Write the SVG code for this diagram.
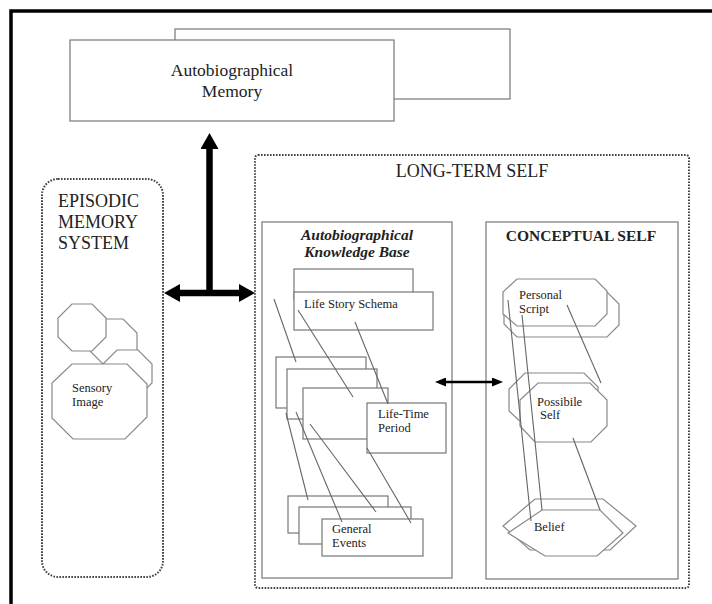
<svg xmlns="http://www.w3.org/2000/svg" width="712" height="604" viewBox="0 0 712 604">
<style>
  text { font-family: "Liberation Serif", "Times New Roman", serif; fill: #222; }
  .box { fill: #fff; stroke: #777; stroke-width: 1.2; }
  .dot { fill: none; stroke: #444; stroke-width: 2; stroke-dasharray: 1.6 1.4; }
  .shape { fill: #fff; stroke: #888; stroke-width: 1.2; }
  .thin { stroke: #666; stroke-width: 1.1; fill: none; }
  .big { stroke: #000; stroke-width: 6.5; fill: none; }
  .mid { stroke: #000; stroke-width: 2.6; fill: none; }
  .t18 { font-size: 18px; }
  .t12 { font-size: 12.5px; }
</style>
<defs>
  <marker id="bigHead" viewBox="0 0 16 18" refX="0" refY="9" markerWidth="16" markerHeight="18" markerUnits="userSpaceOnUse" orient="auto-start-reverse">
    <path d="M0,0 L16,9 L0,18 Z" fill="#000"/>
  </marker>
  <marker id="midHead" viewBox="0 0 11 9" refX="0" refY="4.5" markerWidth="11" markerHeight="9" markerUnits="userSpaceOnUse" orient="auto-start-reverse">
    <path d="M0,0 L11,4.5 L0,9 Z" fill="#000"/>
  </marker>
</defs>
<rect width="712" height="604" fill="#fff"/>
<rect x="11" y="11" width="712" height="612" fill="none" stroke="#000" stroke-width="3.5"/>

<g id="autobiographical-memory">
  <rect class="box" x="175" y="29" width="335" height="70"/>
  <rect class="box" x="70" y="40" width="324" height="81"/>
  <text class="t18" x="232" y="76" text-anchor="middle" style="font-size:17.5px">Autobiographical</text>
  <text class="t18" x="232" y="97" text-anchor="middle" style="font-size:17.5px">Memory</text>
</g>

<g id="episodic-memory-system">
  <rect class="dot" x="42" y="179" width="121" height="398" rx="16"/>
  <text class="t18" x="58" y="207">EPISODIC</text>
  <text class="t18" x="58" y="228">MEMORY</text>
  <text class="t18" x="58" y="249">SYSTEM</text>
  <polygon class="shape" points="104,319 123,319 137,333 137,351 123,365 104,365 90,351 90,333"/>
  <polygon class="shape" points="117,350 138,350 152,364 152,383 140,395 117,395 103,383 103,364"/>
  <polygon class="shape" points="72,304 92,304 106,318 106,337 92,351 72,351 58,337 58,318"/>
  <g id="sensory-image">
    <polygon class="shape" points="72,364 127,364 147,384 147,417 125,439 73,439 52,418 52,383"/>
    <text class="t12" x="72" y="392">Sensory</text>
    <text class="t12" x="72" y="406">Image</text>
  </g>
</g>

<g id="long-term-self">
  <rect class="dot" x="255" y="155" width="434" height="433" rx="3"/>
  <text class="t18" x="472" y="177" text-anchor="middle">LONG-TERM SELF</text>
</g>

<g id="autobiographical-knowledge-base">
  <rect class="box" x="262" y="222" width="190" height="356"/>
  <text x="357" y="240" text-anchor="middle" font-weight="bold" font-style="italic" font-size="15.5">Autobiographical</text>
  <text x="357" y="257" text-anchor="middle" font-weight="bold" font-style="italic" font-size="15.5">Knowledge Base</text>
</g>

<g id="life-story-schema">
  <rect class="box" x="294" y="269" width="119" height="30"/>
  <rect class="box" x="294" y="292" width="139" height="38"/>
  <text class="t12" x="304" y="308">Life Story Schema</text>
</g>

<g id="life-time-period">
  <rect class="box" x="276" y="357" width="90" height="51"/>
  <rect class="box" x="287" y="369" width="90" height="50"/>
  <rect class="box" x="303" y="388" width="85" height="51"/>
  <rect class="box" x="367" y="403" width="79" height="50"/>
  <text class="t12" x="378" y="418">Life-Time</text>
  <text class="t12" x="378" y="432">Period</text>
</g>

<g id="general-events">
  <rect class="box" x="288" y="496" width="100" height="37"/>
  <rect class="box" x="299" y="507" width="112" height="37"/>
  <rect class="box" x="322" y="519" width="101" height="37"/>
  <text class="t12" x="332" y="533">General</text>
  <text class="t12" x="332" y="547">Events</text>
</g>

<g id="conceptual-self">
  <rect class="box" x="486" y="222" width="192" height="357"/>
  <text x="581" y="241" text-anchor="middle" font-weight="bold" font-size="15.5">CONCEPTUAL SELF</text>
</g>

<g id="personal-script">
  <polygon class="shape" points="517,291 606,291 619,304 619,325 607,337 517,337 504,324 504,304"/>
  <polygon class="shape" points="517,279 595,279 607,291 607,314 595,326 517,326 503,314 503,292"/>
  <text class="t12" x="519" y="299">Personal</text>
  <text class="t12" x="519" y="313">Script</text>
</g>

<g id="possibile-self">
  <polygon class="shape" points="525,373 584,373 598,387 598,412 584,426 525,426 509,411 509,389"/>
  <polygon class="shape" points="538,383 590,383 607,400 607,426 591,442 535,442 520,426 520,400"/>
  <text class="t12" x="537" y="406">Possibile</text>
  <text class="t12" x="540" y="419">Self</text>
</g>

<g id="belief">
  <polygon class="shape" points="535,499 603,499 636,526 610,550 530,550 503,526"/>
  <polygon class="shape" points="542,510 600,510 623,533 597,556 545,556 508,533"/>
  <text class="t12" x="534" y="531">Belief</text>
</g>

<g id="connectors">
  <line class="big" x1="209.5" y1="296" x2="209.5" y2="149" marker-end="url(#bigHead)"/>
  <line class="big" x1="180" y1="293" x2="239" y2="293" marker-start="url(#bigHead)" marker-end="url(#bigHead)"/>
  <line class="mid" x1="446" y1="382" x2="492" y2="382" marker-start="url(#midHead)" marker-end="url(#midHead)"/>
  <line class="thin" x1="274" y1="299" x2="296" y2="362"/>
  <line class="thin" x1="298" y1="310" x2="353" y2="397"/>
  <line class="thin" x1="355" y1="322" x2="388" y2="404"/>
  <line class="thin" x1="286" y1="413" x2="308" y2="500"/>
  <line class="thin" x1="296" y1="412" x2="342" y2="522"/>
  <line class="thin" x1="310" y1="424" x2="376" y2="512"/>
  <line class="thin" x1="367" y1="448" x2="411" y2="523"/>
  <line class="thin" x1="508" y1="300" x2="531" y2="521"/>
  <line class="thin" x1="522" y1="315" x2="542" y2="510"/>
  <line class="thin" x1="567" y1="305" x2="601" y2="383"/>
  <line class="thin" x1="573" y1="438" x2="600" y2="510"/>
</g>
</svg>
